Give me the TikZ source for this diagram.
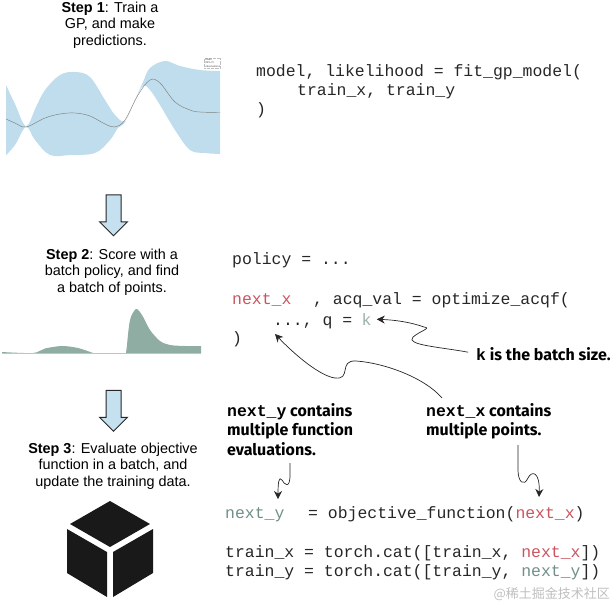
\documentclass[tikz,border=0pt]{standalone}
\usepackage{fontspec}
\setmainfont{Liberation Sans}
\setmonofont{Liberation Mono}
\newfontfamily\notefont{Fira Sans}
\newfontfamily\cjkfont{Noto Sans CJK SC}
\usetikzlibrary{arrows.meta, positioning, shapes.arrows}
\definecolor{bandblue}{HTML}{BFDDEC}
\definecolor{arrowblue}{HTML}{C5E0EF}
\definecolor{policygreen}{HTML}{8FADA3}
\definecolor{nextred}{HTML}{C8555F}
\definecolor{nextgreen}{HTML}{6F8F88}
\tikzset{
  steptext/.style={align=center, inner sep=0pt, font=\fontsize{14.4}{16.5}\selectfont},
  code/.style={anchor=base west, inner sep=0pt, text=black!85, font=\ttfamily\fontsize{16.45}{19}\selectfont},
  notetext/.style={anchor=north west, align=left, inner sep=0pt, font=\notefont\bfseries\fontsize{16}{19.5}\selectfont},
  downarrow/.style={draw=black!85, fill=arrowblue, line width=1pt, single arrow, rotate=-90,
    minimum height=41pt, inner xsep=0pt, inner ysep=7pt, single arrow head extend=6.5pt, single arrow tip angle=90},
  callout/.style={->, line width=0.7pt, black!85},
}
\newcommand{\nx}{\textcolor{nextred}{next\_x}}
\newcommand{\ny}{\textcolor{nextgreen}{next\_y}}
\newcommand{\mt}[1]{{\ttfamily\bfseries\fontsize{16.45}{19.5}\selectfont #1}}

\begin{document}
\begin{tikzpicture}[x=1pt, y=-1pt, >={Stealth[length=8pt,width=8pt]}]
    \useasboundingbox (0,0) rectangle (614,606);

    % Step 1
    \node[steptext] (stepone) at (110,25) {\textbf{Step 1}: Train a\\GP, and make\\predictions.};
    \fill[bandblue] plot[smooth, tension=0.6] coordinates {(6,85) (15,104) (26,126) (36,107) (45,90) (60,75) (75,72) (90,77) (105,100) (115,115) (125,121) (134,102) (143,82) (150,68) (165,61) (180,66) (200,70) (220,71)}
      -- plot[smooth, tension=0.6] coordinates {(220,154) (205,153) (190,150) (175,130) (160,105) (150,90) (143,86) (135,100) (125,122) (118,128) (110,140) (95,153) (70,155) (50,155) (35,140) (26,127) (15,145) (6,155)} -- cycle;
    \draw[black!50, line width=0.45pt] plot[smooth, tension=0.6] coordinates {(6,119) (15,123) (26,127) (45,118) (60,114) (75,113) (90,116) (105,124) (115,127) (125,120) (138,95) (150,80) (160,83) (175,102) (190,110) (200,112) (220,112.5)};
    % legend
    \node[draw=black!25, densely dotted, line width=0.3pt, fill=white, inner sep=0.5pt, align=left, font=\fontsize{2.6}{3.6}\selectfont, text=black!70, anchor=north west] (legend) at (204,58) {\ mean\\\ 95\% CI\\\ observations};

    \node[code] (modelline) at (256,76) {model, likelihood = fit\_gp\_model(};
    \node[code] (trainline) at (297,95) {train\_x, train\_y};
    \node[code] (closeone) at (256,114) {)};

    \node[downarrow] (arrowone) at (113.5,211.5) {};

    % Step 2
    \node[steptext] (steptwo) at (112,272) {\textbf{Step 2}: Score with a\\batch policy, and find\\a batch of points.};
    \fill[policygreen] plot[smooth, tension=0.5] coordinates {(2,352) (33,353) (45,348.5) (62,346) (78,348) (93,353)} -- (126,353)
      -- plot[smooth, tension=0.5] coordinates {(127,345) (130,320) (136,309) (142,315) (150,330) (160,341) (170,345) (185,346) (201,346)} -- (201,353.5) -- (2,353.5) -- cycle;

    \node[code] (policyline) at (232,264) {policy = ...};
    \node[code] (nextline) at (232,304) {\nx};
    \node[code] (acqline) at (313,304) {, acq\_val = optimize\_acqf(};
    \node[code] (dotsline) at (273,325) {..., q = };
    \node[code, text=nextgreen!70] (batchk) at (361.5,325) {k};
    \node[code] (closetwo) at (232,343) {)};

    \node[notetext, anchor=base west] (sizenote) at (476,360) {\mt{k} is the batch size.};

    \node[downarrow] (arrowtwo) at (113.5,407) {};

    % Step 3
    \node[steptext] (stepthree) at (113,466) {\textbf{Step 3}: Evaluate objective\\function in a batch, and\\update the training data.};
    \fill[black!90] (110,501) -- (150,524) -- (110,547) -- (70,524) -- cycle;
    \fill[black!90] (67,529) -- (107,552) -- (107,597) -- (67,573) -- cycle;
    \fill[black!90] (153,529) -- (113,552) -- (113,597) -- (153,573) -- cycle;

    \node[notetext] (ynote) at (227,403) {\mt{next\_y} contains\\multiple function\\evaluations.};
    \node[notetext] (xnote) at (426,403) {\mt{next\_x} contains\\multiple points.};

    \node[code] (objy) at (225,518) {\ny};
    \node[code] (objline) at (308,518) {= objective\_function(\nx)};
    \node[code] (catx) at (225,557) {train\_x = torch.cat([train\_x, \nx])};
    \node[code] (caty) at (225,576) {train\_y = torch.cat([train\_y, \ny])};

    % Callouts
    \coordinate (dotstip) at (275,334);
    \coordinate (xstart) at (442,398);
    \coordinate (ystart) at (290,463);
    \coordinate (ytip) at (278,499);
    \coordinate (xdown) at (518,445);
    \coordinate (xtip) at (539,497);
    \draw[callout, shorten <=8pt, shorten >=5pt] (sizenote.west) .. controls (440,347) and (405,345) .. (413,337) .. controls (420,331) and (432,328) .. (424,327) .. controls (410,322) and (395,320) .. (batchk.east);
    \draw[callout] (xstart) .. controls (425,378) and (385,363) .. (356,361) .. controls (338,360) and (352,380) .. (335,378) .. controls (320,376) and (295,355) .. (dotstip);
    \draw[callout] (ystart) -- (290,475) .. controls (290,490) and (284,484) .. (282,480) .. controls (279,476) and (278,482) .. (ytip);
    \draw[callout] (xdown) -- (518,470) .. controls (518,482) and (524,487) .. (528,478) .. controls (532,470) and (540,472) .. (xtip);

    % Site mark
    \node[inner sep=0pt, text=black!25, font=\cjkfont\fontsize{13}{15}\selectfont, anchor=east] (sitemark) at (610,594) {@稀土掘金技术社区};
\end{tikzpicture}
\end{document}
